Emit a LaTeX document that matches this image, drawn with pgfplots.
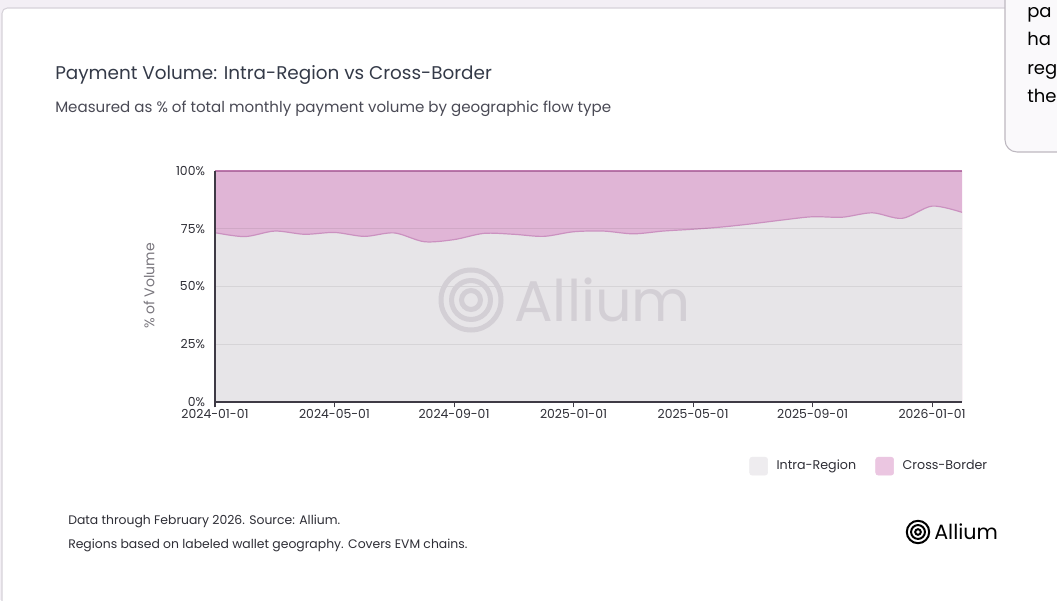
\documentclass[border=0pt]{standalone}
\usepackage{pgfplots}
\usepackage{pgfplotstable}
\pgfplotsset{compat=1.18}
\usepackage{fontspec}
\setmainfont{Poppins}
\definecolor{bgc}{HTML}{F3EFF5}
\definecolor{cardc}{HTML}{D6D2D9}
\definecolor{crossc}{HTML}{E0B5D6}
\definecolor{intrac}{HTML}{E7E5E8}
\definecolor{linec}{HTML}{CB91C0}
\definecolor{topc}{HTML}{BE78AE}
\definecolor{axisc}{HTML}{3E3A45}
\definecolor{titlec}{HTML}{343A48}
\definecolor{subc}{HTML}{4A4A55}
\definecolor{tickc}{HTML}{2E2E36}
\definecolor{ylabc}{HTML}{7A777E}
\definecolor{wmc}{HTML}{D3CFD5}
\definecolor{legintra}{HTML}{EEECEF}
\definecolor{legcross}{HTML}{EBC6E1}
\definecolor{tipbg}{HTML}{FAF9FB}
\definecolor{tipborder}{HTML}{BDB8C0}

\pgfplotstableread{
month intra cross
0  73.3 26.7
1  71.6 28.4
2  74.0 26.0
3  72.6 27.4
4  73.4 26.6
5  71.7 28.3
6  73.2 26.8
7  69.4 30.6
8  70.3 29.7
9  73.0 27.0
10 72.6 27.4
11 71.7 28.3
12 73.7 26.3
13 74.0 26.0
14 72.8 27.2
15 74.0 26.0
16 74.8 25.2
17 75.8 24.2
18 77.2 22.8
19 78.8 21.2
20 80.2 19.8
21 80.0 20.0
22 81.9 18.1
23 79.5 20.5
24 84.8 15.2
25 82.1 17.9
}\datatable

\begin{document}
\begin{tikzpicture}
\path[use as bounding box] (0,0) rectangle (792.75pt,450pt);
\clip (0,0) rectangle (792.75pt,450pt);
\begin{scope}[x=0.75pt,y=-0.75pt,shift={(0pt,450pt)}]
  \fill[bgc] (0,0) rectangle (1057,600);
  \draw[fill=white, draw=cardc, line width=0.8pt, rounded corners=4pt] (2,8) rectangle (1090,660);
  % cut-off tooltip panel
  \draw[fill=tipbg, draw=tipborder, line width=0.8pt, rounded corners=9pt] (1005,-40) rectangle (1100,152);
  \begin{scope}[every node/.style={anchor=base west, inner sep=0pt, font=\fontsize{13.5}{16}\selectfont, text=black}]
    \node at (1027,18) {pa};
    \node at (1027,46) {ha};
    \node at (1027,75) {reg};
    \node at (1027,103) {the};
  \end{scope}
  % titles
  \node[anchor=west, inner sep=0pt, text=titlec] at (55,75) {\fontsize{13.8}{16}\selectfont Payment Volume: Intra-Region vs Cross-Border};
  \node[anchor=west, inner sep=0pt, text=subc] at (55,109) {\fontsize{11.3}{13}\selectfont Measured as \% of total monthly payment volume by geographic flow type};
\end{scope}

\begin{axis}[
  at={(161.25pt,148.5pt)}, anchor=south west,
  width=560.25pt, height=173.25pt, scale only axis,
  xmin=0, xmax=25, ymin=0, ymax=100,
  axis on top,
  axis x line*=bottom, axis y line*=left,
  axis line style={draw=axisc, line width=0.9pt, -},
  xtick={0,4,8,12,16,20,24},
  xticklabels={2024-01-01,2024-05-01,2024-09-01,2025-01-01,2025-05-01,2025-09-01,2026-01-01},
  ytick={0,25,50,75,100},
  yticklabels={0\%,25\%,50\%,75\%,100\%},
  tick align=outside,
  major tick length=4pt,
  xtick style={draw=axisc, line width=0.8pt},
  ytick style={draw=none},
  tick label style={font=\fontsize{9.3}{10}\selectfont, text=tickc},
  xticklabel style={yshift=2pt},
  ymajorgrids,
  major grid style={draw=black, opacity=0.07, line width=0.6pt},
  legend style={at={(axis description cs:1.043,-0.225)}, anchor=north east, draw=none, fill=none,
    font=\fontsize{9.5}{11}\selectfont, text=tickc, legend columns=2,
    /tikz/every even column/.append style={column sep=12.5pt}},
  legend cell align=left,
]
\addplot[draw=none, fill=crossc, forget plot] table[x=month, y expr=\thisrow{intra}+\thisrow{cross}] {\datatable} \closedcycle;
\addplot[draw=none, fill=intrac, smooth, forget plot] table[x=month, y=intra] {\datatable} \closedcycle;
\addplot[draw=linec, line width=0.9pt, smooth, forget plot] table[x=month, y=intra] {\datatable};
\addplot[draw=topc, line width=1.3pt, forget plot] table[x=month, y expr=\thisrow{intra}+\thisrow{cross}] {\datatable};
\addlegendimage{legend image code/.code={\fill[legintra, rounded corners=2pt] (0pt,-6.75pt) rectangle (13.5pt,6.75pt); \path (18pt,0pt);}}
\addlegendentry{Intra-Region}
\addlegendimage{legend image code/.code={\fill[legcross, rounded corners=2pt] (0pt,-6.75pt) rectangle (13.5pt,6.75pt); \path (18pt,0pt);}}
\addlegendentry{Cross-Border}
\end{axis}

\begin{scope}[x=0.75pt,y=-0.75pt,shift={(0pt,450pt)}]
  % watermark
  \draw[wmc, line width=3.75pt] (471,300) circle (22.5pt);
  \draw[wmc, line width=3.75pt] (471,300) circle (14.6pt);
  \draw[wmc, line width=3.75pt] (471,300) circle (7.1pt);
  \node[anchor=west, inner sep=0pt, text=wmc] at (514,300) {\fontsize{43}{48}\selectfont Allium};
  % y label
  \node[rotate=90, inner sep=0pt, text=ylabc] at (149,286) {\fontsize{10.5}{12}\selectfont \% of Volume};
  % footer
  \node[anchor=west, inner sep=0pt, text=tickc] at (68,521) {\fontsize{9.3}{10}\selectfont Data through February 2026. Source: Allium.};
  \node[anchor=west, inner sep=0pt, text=tickc] at (68,545) {\fontsize{9.3}{10}\selectfont Regions based on labeled wallet geography. Covers EVM chains.};
  % logo
  \draw[black, line width=1.5pt] (918,532) circle (8.4pt);
  \draw[black, line width=1.5pt] (918,532) circle (5.2pt);
  \draw[black, line width=1.5pt] (918,532) circle (2.1pt);
  \node[anchor=west, inner sep=0pt, text=black] at (934,532) {\fontsize{15.5}{18}\selectfont Allium};
\end{scope}
\end{tikzpicture}
\end{document}
